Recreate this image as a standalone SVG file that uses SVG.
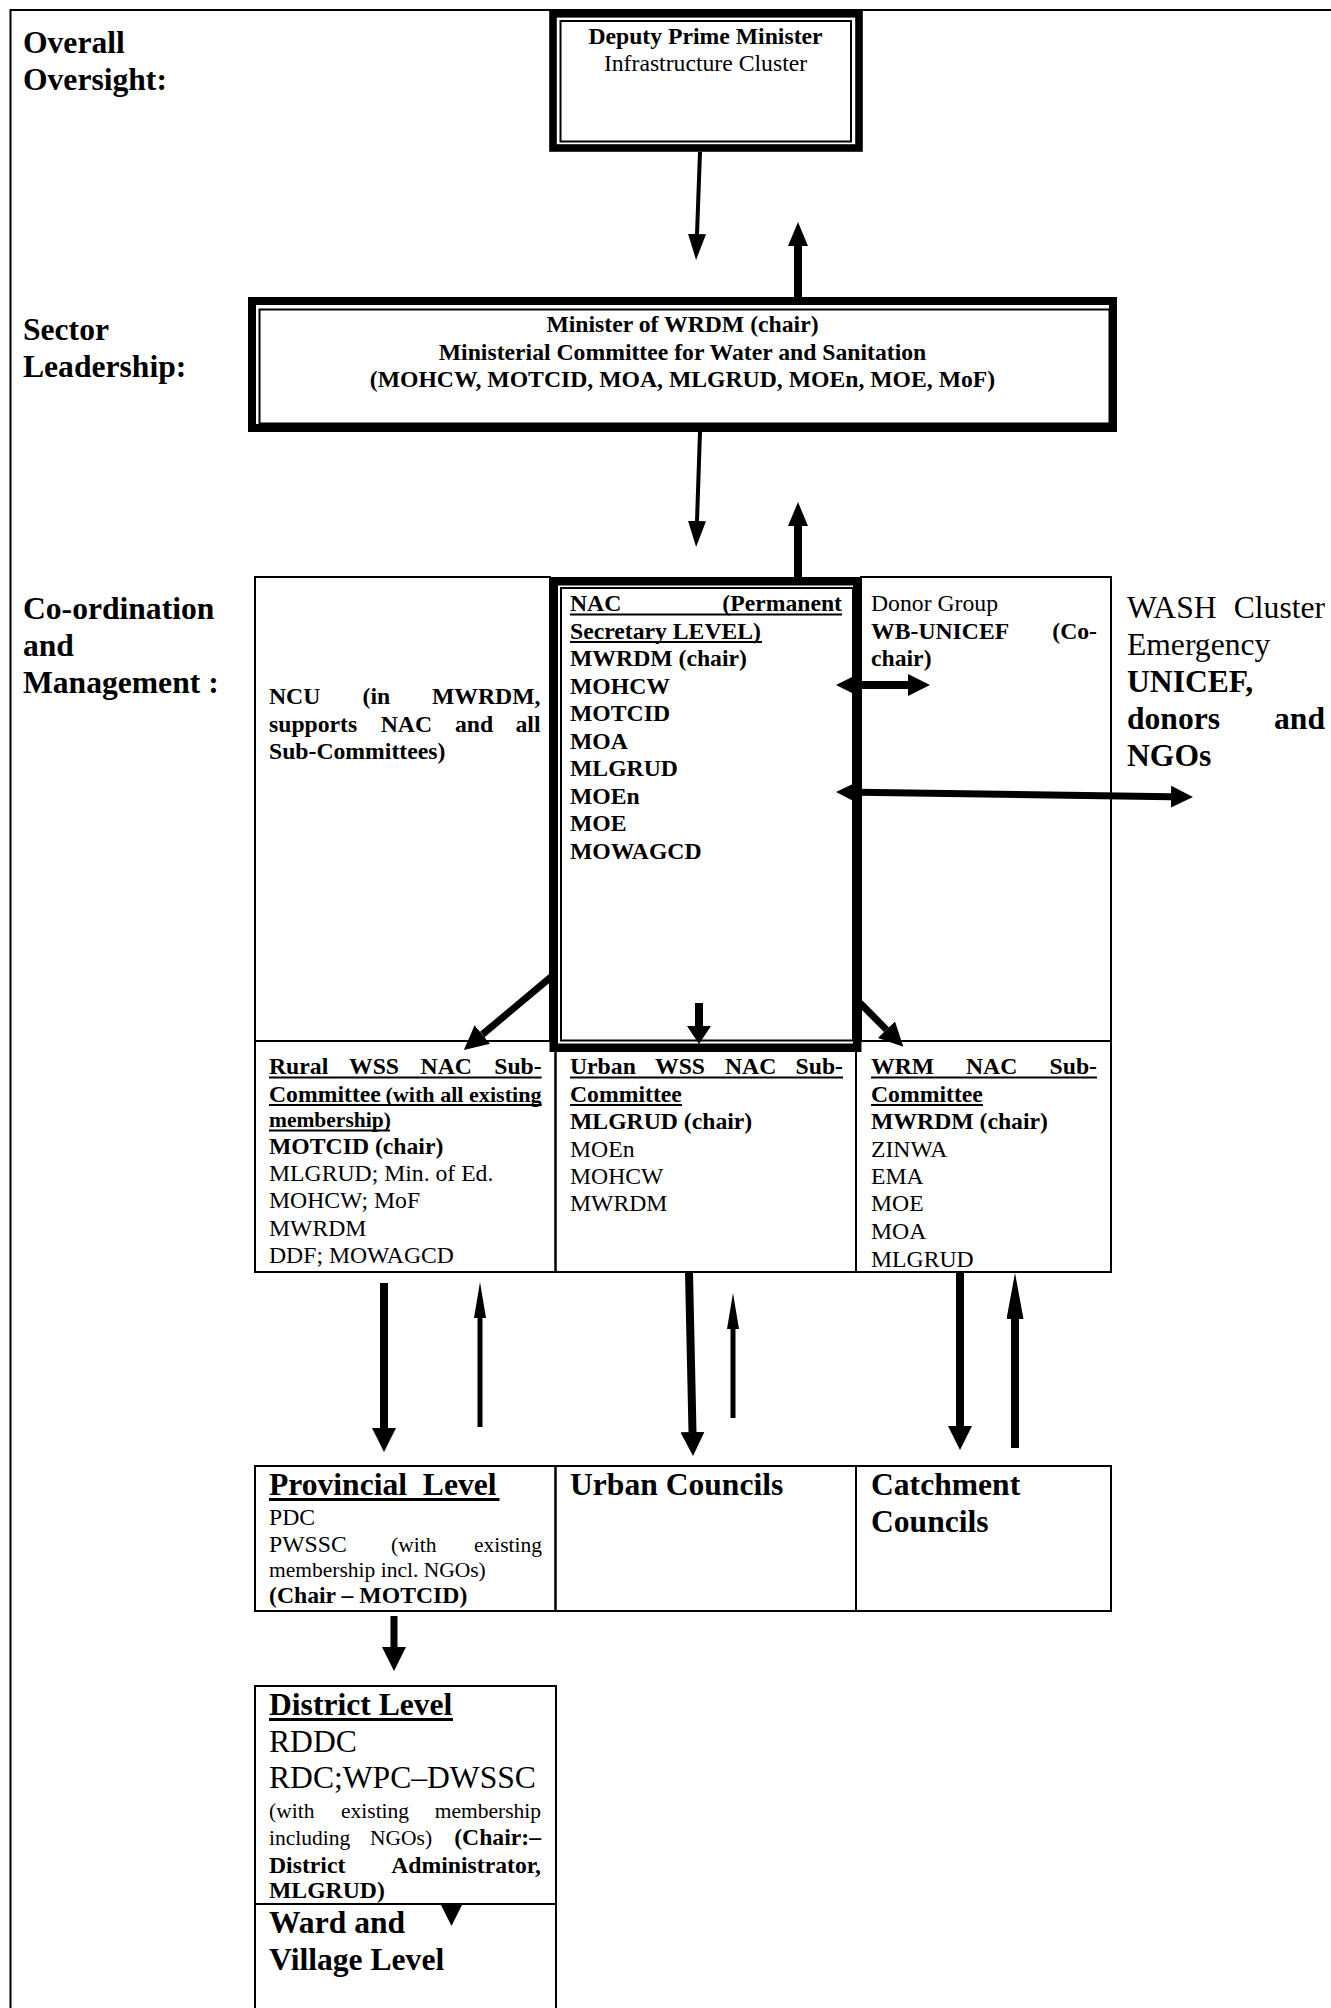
<svg xmlns="http://www.w3.org/2000/svg" width="1331" height="2008" viewBox="0 0 1331 2008">
<style>
text{font-family:"Liberation Serif","Times New Roman",serif;fill:#000}
.b{font-weight:bold}
.f12{font-size:23.7px}
.f11{font-size:21.5px}
.f16{font-size:31.6px}
.cell{fill:none;stroke:#000;stroke-width:2}
.ul{stroke:#000;stroke-width:2}
.ul16{stroke:#000;stroke-width:2.8}
#connectors line{stroke:#000;fill:none}
.e{text-anchor:end}
.m{text-anchor:middle}
</style>
<defs>
<marker id="hBig" viewBox="0 -12 24 24" markerWidth="24" markerHeight="24" refX="0" refY="0" orient="auto-start-reverse" markerUnits="userSpaceOnUse"><path d="M0,-12L24,0L0,12z"/></marker>
<marker id="hMed" viewBox="0 -9 26 18" markerWidth="26" markerHeight="18" refX="0" refY="0" orient="auto-start-reverse" markerUnits="userSpaceOnUse"><path d="M0,-9L26,0L0,9z"/></marker>
<marker id="hUp" viewBox="0 -10 24 20" markerWidth="24" markerHeight="20" refX="0" refY="0" orient="auto-start-reverse" markerUnits="userSpaceOnUse"><path d="M0,-10L24,0L0,10z"/></marker>
<marker id="hDbl" viewBox="0 -11 22 22" markerWidth="22" markerHeight="22" refX="0" refY="0" orient="auto-start-reverse" markerUnits="userSpaceOnUse"><path d="M0,-11L22,0L0,11z"/></marker>
<marker id="hShort" viewBox="0 -12 18 24" markerWidth="18" markerHeight="24" refX="0" refY="0" orient="auto-start-reverse" markerUnits="userSpaceOnUse"><path d="M0,-12L18,0L0,12z"/></marker>
<marker id="hSlim" viewBox="0 -6 36 12" markerWidth="36" markerHeight="12" refX="0" refY="0" orient="auto-start-reverse" markerUnits="userSpaceOnUse"><path d="M0,-6L36,0L0,6z"/></marker>
<marker id="hSlim2" viewBox="0 -8.5 46 17" markerWidth="46" markerHeight="17" refX="0" refY="0" orient="auto-start-reverse" markerUnits="userSpaceOnUse"><path d="M0,-8.5L46,0L0,8.5z"/></marker>
</defs>
<rect x="0" y="0" width="1331" height="2008" fill="#fff"/>
<rect x="10.5" y="10" width="1400" height="2100" fill="none" stroke="#000" stroke-width="2"/>

<g id="label-overall" class="b f16">
<text x="23" y="52.5">Overall</text>
<text x="23" y="89.5">Oversight:</text>
</g>
<g id="label-sector" class="b f16">
<text x="23" y="340">Sector</text>
<text x="23" y="377">Leadership:</text>
</g>
<g id="label-coordination" class="b f16">
<text x="23" y="619">Co-ordination</text>
<text x="23" y="656">and</text>
<text x="23" y="693">Management :</text>
</g>

<g id="node-dpm">
<rect x="553" y="13.8" width="306" height="134.2" fill="#fff" stroke="#000" stroke-width="7.6"/>
<rect x="560.5" y="21" width="290.5" height="120.5" fill="none" stroke="#000" stroke-width="2"/>
<text class="b f12 m" x="705.5" y="44">Deputy Prime Minister</text>
<text class="f12 m" x="705.5" y="71">Infrastructure Cluster</text>
</g>

<g id="node-ministerial">
<rect x="252" y="301" width="861" height="127" fill="#fff" stroke="#000" stroke-width="8"/>
<rect x="259.5" y="309.5" width="850" height="114" fill="none" stroke="#000" stroke-width="2"/>
<text class="b f12 m" x="682.5" y="332">Minister of WRDM (chair)</text>
<text class="b f12 m" x="682.5" y="359.5">Ministerial Committee for Water and Sanitation</text>
<text class="b f12 m" x="682.5" y="387">(MOHCW, MOTCID, MOA, MLGRUD, MOEn, MOE, MoF)</text>
</g>

<g id="node-ncu">
<rect class="cell" x="255" y="577" width="295" height="464"/>
<g class="b f12">
<text x="269" y="703.5">NCU</text><text x="362.6" y="703.5">(in</text><text class="e" x="540.5" y="703.5">MWRDM,</text>
<text x="269" y="731.5">supports</text><text x="380.7" y="731.5">NAC</text><text x="455" y="731.5">and</text><text class="e" x="540.5" y="731.5">all</text>
<text x="269" y="759">Sub-Committees)</text>
</g>
</g>

<g id="node-donor">
<rect class="cell" x="861" y="577" width="250" height="464"/>
<text class="f12" x="871" y="611">Donor Group</text>
<g class="b f12">
<text x="871" y="638.6">WB-UNICEF</text><text class="e" x="1097" y="638.6">(Co-</text>
<text x="871" y="666">chair)</text>
</g>
</g>

<g id="node-rural">
<rect class="cell" x="255" y="1041" width="300.5" height="231"/>
<g class="b f12">
<text x="269" y="1074">Rural</text><text x="349" y="1074">WSS</text><text x="420.6" y="1074">NAC</text><text class="e" x="541.7" y="1074">Sub-</text>
<text x="269" y="1101.5">Committee</text>
</g>
<text class="b f11" x="385.5" y="1101.5" textLength="156" lengthAdjust="spacingAndGlyphs">(with all existing</text>
<text class="b f11" x="269" y="1127">membership)</text>
<line class="ul" x1="269" y1="1077.5" x2="541.7" y2="1077.5"/>
<line class="ul" x1="269" y1="1105" x2="541.7" y2="1105"/>
<line class="ul" x1="269" y1="1130.5" x2="390" y2="1130.5"/>
<text class="b f12" x="269" y="1153.5">MOTCID (chair)</text>
<g class="f12">
<text x="269" y="1181">MLGRUD; Min. of Ed.</text>
<text x="269" y="1208.3">MOHCW; MoF</text>
<text x="269" y="1235.5">MWRDM</text>
<text x="269" y="1263">DDF; MOWAGCD</text>
</g>
</g>

<g id="node-urban">
<rect class="cell" x="555.5" y="1041" width="300.5" height="231"/>
<g class="b f12">
<text x="570" y="1074">Urban</text><text x="655" y="1074">WSS</text><text x="725" y="1074">NAC</text><text class="e" x="843" y="1074">Sub-</text>
<text x="570" y="1101.5">Committee</text>
<text x="570" y="1129">MLGRUD (chair)</text>
</g>
<line class="ul" x1="570" y1="1077.5" x2="843" y2="1077.5"/>
<line class="ul" x1="570" y1="1105" x2="682" y2="1105"/>
<g class="f12">
<text x="570" y="1156.5">MOEn</text>
<text x="570" y="1184">MOHCW</text>
<text x="570" y="1211">MWRDM</text>
</g>
</g>

<g id="node-wrm">
<rect class="cell" x="856" y="1041" width="255" height="231"/>
<g class="b f12">
<text x="871" y="1074">WRM</text><text x="966" y="1074">NAC</text><text class="e" x="1097" y="1074">Sub-</text>
<text x="871" y="1101.5">Committee</text>
<text x="871" y="1129">MWRDM (chair)</text>
</g>
<line class="ul" x1="871" y1="1077.5" x2="1097" y2="1077.5"/>
<line class="ul" x1="871" y1="1105" x2="983" y2="1105"/>
<g class="f12">
<text x="871" y="1156.5">ZINWA</text>
<text x="871" y="1184">EMA</text>
<text x="871" y="1211">MOE</text>
<text x="871" y="1239">MOA</text>
<text x="871" y="1266.5">MLGRUD</text>
</g>
</g>

<g id="node-nac">
<rect x="553.75" y="581.25" width="303.5" height="466.5" fill="#fff" stroke="#000" stroke-width="8.5"/>
<rect x="561" y="588" width="292" height="452.5" fill="none" stroke="#000" stroke-width="2"/>
<g class="b f12">
<text x="570" y="611">NAC</text><text class="e" x="842" y="611">(Permanent</text>
<text x="570" y="638.6">Secretary LEVEL)</text>
<text x="570" y="666">MWRDM (chair)</text>
<text x="570" y="693.5">MOHCW</text>
<text x="570" y="721">MOTCID</text>
<text x="570" y="748.7">MOA</text>
<text x="570" y="776">MLGRUD</text>
<text x="570" y="803.7">MOEn</text>
<text x="570" y="831.3">MOE</text>
<text x="570" y="859">MOWAGCD</text>
</g>
<line class="ul" x1="570" y1="614.5" x2="842" y2="614.5"/>
<line class="ul" x1="570" y1="642" x2="762" y2="642"/>
</g>

<g id="node-wash">
<text class="f16" x="1127" y="618">WASH</text><text class="f16 e" x="1325" y="618">Cluster</text>
<text class="f16" x="1127" y="655">Emergency</text>
<g class="b f16">
<text x="1127" y="692">UNICEF,</text>
<text x="1127" y="729">donors</text><text class="e" x="1325" y="729">and</text>
<text x="1127" y="766">NGOs</text>
</g>
</g>

<g id="node-provincial">
<rect class="cell" x="255" y="1466" width="300.5" height="145"/>
<text class="b f16" x="269" y="1495" xml:space="preserve">Provincial  Level</text>
<line class="ul16" x1="269" y1="1499.5" x2="499.5" y2="1499.5"/>
<text class="f12" x="269" y="1525">PDC</text>
<text class="f12" x="269" y="1551.5">PWSSC</text><text class="f11" x="391" y="1551.5">(with</text><text class="f11 e" x="542" y="1551.5">existing</text>
<text class="f11" x="269" y="1577">membership incl. NGOs)</text>
<text class="b f12" x="269" y="1603">(Chair – MOTCID)</text>
</g>

<g id="node-urban-councils">
<rect class="cell" x="555.5" y="1466" width="300.5" height="145"/>
<text class="b f16" x="570" y="1495">Urban Councils</text>
</g>

<g id="node-catchment">
<rect class="cell" x="856" y="1466" width="255" height="145"/>
<text class="b f16" x="871" y="1495">Catchment</text>
<text class="b f16" x="871" y="1532">Councils</text>
</g>

<g id="node-district">
<rect class="cell" x="255" y="1686" width="301" height="218"/>
<text class="b f16" x="269" y="1715">District Level</text>
<line class="ul16" x1="269" y1="1719.5" x2="453" y2="1719.5"/>
<text class="f16" x="269" y="1751.5">RDDC</text>
<text class="f16" x="269" y="1788">RDC;WPC–DWSSC</text>
<text class="f11" x="269" y="1818">(with</text><text class="f11" x="341" y="1818">existing</text><text class="f11 e" x="541" y="1818">membership</text>
<text class="f11" x="269" y="1845">including</text><text class="f11" x="370" y="1845">NGOs)</text><text class="b f12 e" x="541" y="1845">(Chair:–</text>
<text class="b f12" x="269" y="1873">District</text><text class="b f12 e" x="541" y="1873">Administrator,</text>
<text class="b f12" x="269" y="1898">MLGRUD)</text>
</g>

<g id="node-ward">
<rect class="cell" x="255" y="1904" width="301" height="130"/>
<text class="b f16" x="269" y="1933">Ward and</text>
<text class="b f16" x="269" y="1970">Village Level</text>
</g>

<g id="connectors">
<line x1="700" y1="152" x2="697" y2="234" stroke-width="4" marker-end="url(#hMed)"/>
<line x1="798" y1="297" x2="798" y2="246" stroke-width="8" marker-end="url(#hUp)"/>
<line x1="700" y1="432" x2="697" y2="521" stroke-width="4" marker-end="url(#hMed)"/>
<line x1="798" y1="577" x2="798" y2="526" stroke-width="8" marker-end="url(#hUp)"/>
<line x1="858" y1="685" x2="908" y2="685" stroke-width="8" marker-start="url(#hDbl)" marker-end="url(#hDbl)"/>
<line x1="858" y1="792.3" x2="1171" y2="796.7" stroke-width="7" marker-start="url(#hDbl)" marker-end="url(#hDbl)"/>
<line x1="551" y1="977" x2="482.3" y2="1034.5" stroke-width="7" marker-end="url(#hBig)"/>
<line x1="699" y1="1003" x2="699" y2="1026" stroke-width="8" marker-end="url(#hShort)"/>
<line x1="860" y1="1003" x2="886.4" y2="1029.6" stroke-width="7" marker-end="url(#hBig)"/>
<line x1="384" y1="1283" x2="384" y2="1428" stroke-width="8" marker-end="url(#hBig)"/>
<line x1="480" y1="1427" x2="480" y2="1318" stroke-width="5" marker-end="url(#hSlim)"/>
<line x1="689" y1="1272" x2="692.5" y2="1432" stroke-width="8" marker-end="url(#hBig)"/>
<line x1="733" y1="1418" x2="733" y2="1329" stroke-width="5" marker-end="url(#hSlim)"/>
<line x1="960" y1="1272" x2="960" y2="1426" stroke-width="8" marker-end="url(#hBig)"/>
<line x1="1015" y1="1448" x2="1015" y2="1319" stroke-width="8" marker-end="url(#hSlim2)"/>
<line x1="394" y1="1616" x2="394" y2="1647" stroke-width="7" marker-end="url(#hBig)"/>
<polygon points="440,1903 463,1903 451.5,1926" fill="#000"/>
</g>
</svg>
